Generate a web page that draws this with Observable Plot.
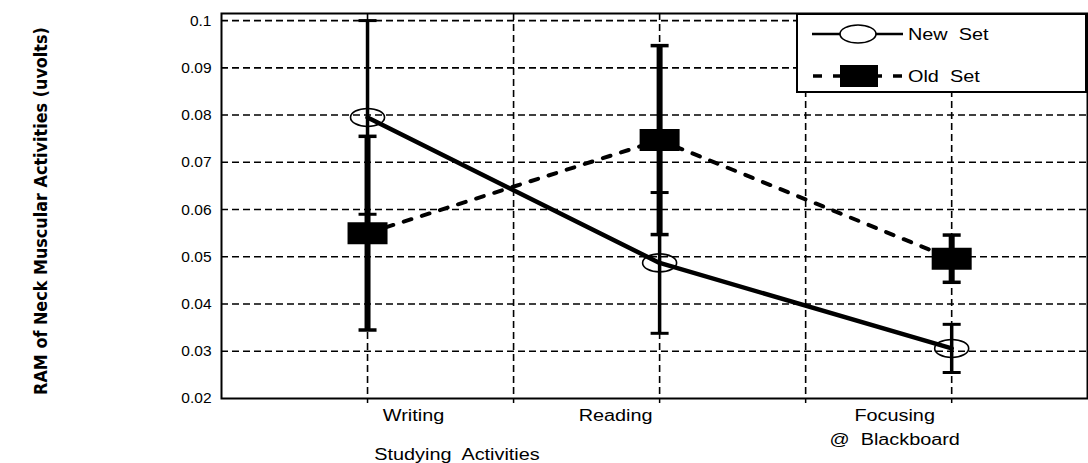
<!DOCTYPE html>
<html><head>
<meta charset="utf-8">
<script src="https://cdn.jsdelivr.net/npm/d3@7"></script>
<script src="https://cdn.jsdelivr.net/npm/@observablehq/plot@0.6"></script>
<style>
html,body{margin:0;padding:0;background:#fff;}
#chart{position:relative;width:1088px;height:463px;}
svg text{white-space:pre;}
</style>
</head><body><div id="chart"></div>
<script>
// ---- data ----
const activities = ["Writing", "Reading", "Focusing\n@  Blackboard"];
const newSet = [0.0795, 0.0487, 0.0306];
const newErr = [0.0205, 0.0149, 0.0051];
const oldSet = [0.0550, 0.0747, 0.0496];
const oldErr = [0.0205, 0.0200, 0.0050];
const yTicks = [0.02, 0.03, 0.04, 0.05, 0.06, 0.07, 0.08, 0.09, 0.1];
const yTickLabels = ["0.02", "0.03", "0.04", "0.05", "0.06", "0.07", "0.08", "0.09", "0.1"];
const seriesNames = ["New  Set", "Old  Set"];
const xTitle = "Studying  Activities";
const yTitle = "RAM of Neck Muscular Activities (uvolts)";

// category i sits at slot 2i+1; dashed verticals every slot
const catX = activities.map((d, i) => 2 * i + 1);
const vGrid = d3.range(1, 6);
const labelDx = [46, -44, -57];

const newData = activities.map((a, i) => ({x: catX[i], y: newSet[i], lo: newSet[i] - newErr[i], hi: newSet[i] + newErr[i]}));
const oldData = activities.map((a, i) => ({x: catX[i], y: oldSet[i], lo: oldSet[i] - oldErr[i], hi: oldSet[i] + oldErr[i]}));
const yLabelMap = new Map(yTicks.map((t, i) => [t, yTickLabels[i]]));

const kappa = 0.5523;
const ellipseSym = {draw(ctx) {
  const rx = 17, ry = 9;
  ctx.moveTo(rx, 0);
  ctx.bezierCurveTo(rx, ry * kappa, rx * kappa, ry, 0, ry);
  ctx.bezierCurveTo(-rx * kappa, ry, -rx, ry * kappa, -rx, 0);
  ctx.bezierCurveTo(-rx, -ry * kappa, -rx * kappa, -ry, 0, -ry);
  ctx.bezierCurveTo(rx * kappa, -ry, rx, -ry * kappa, rx, 0);
  ctx.closePath();
}};
const rectSym = {draw(ctx) { ctx.rect(-20, -11, 40, 22); }};
const capSym = {draw(ctx) { ctx.moveTo(-9, 0); ctx.lineTo(9, 0); }};

const font = "'Liberation Sans', Arial, sans-serif";

const plot = Plot.plot({
  width: 1088,
  height: 463,
  marginLeft: 221,
  marginRight: 1,
  marginTop: 13,
  marginBottom: 65,
  style: {fontFamily: font, background: "white", color: "black"},
  x: {domain: [0, 5.93], axis: null},
  y: {domain: [0.02, 0.1015], axis: null},
  marks: [
    Plot.ruleY(yTicks.slice(1), {stroke: "black", strokeWidth: 1.6, strokeDasharray: "7,4"}),
    Plot.ruleX(vGrid, {stroke: "black", strokeWidth: 1.6, strokeDasharray: "7,4"}),
    Plot.axisX(vGrid, {tickSize: 5, tickFormat: () => "", label: null, stroke: "black", strokeWidth: 1.5}),
    Plot.axisY(yTicks, {tickSize: 0, tickPadding: 10, fontSize: 15.5, tickFormat: d => yLabelMap.get(d), label: null}),
    Plot.frame({stroke: "black", strokeWidth: 2}),
    // error bars
    Plot.ruleX(oldData, {x: "x", y1: "lo", y2: "hi", stroke: "black", strokeWidth: 6}),
    Plot.ruleX(newData, {x: "x", y1: "lo", y2: "hi", stroke: "black", strokeWidth: 3.5}),
    Plot.dot(oldData, {x: "x", y: "lo", symbol: capSym, stroke: "black", strokeWidth: 3.5, fill: "none"}),
    Plot.dot(oldData, {x: "x", y: "hi", symbol: capSym, stroke: "black", strokeWidth: 3.5, fill: "none"}),
    Plot.dot(newData, {x: "x", y: "lo", symbol: capSym, stroke: "black", strokeWidth: 3, fill: "none"}),
    Plot.dot(newData, {x: "x", y: "hi", symbol: capSym, stroke: "black", strokeWidth: 3, fill: "none"}),
    // series lines
    Plot.line(newData, {x: "x", y: "y", stroke: "black", strokeWidth: 4.5}),
    Plot.line(oldData, {x: "x", y: "y", stroke: "black", strokeWidth: 4, strokeDasharray: "8,11"}),
    // markers
    Plot.dot(newData, {x: "x", y: "y", symbol: ellipseSym, stroke: "black", strokeWidth: 1.6, fill: "none"}),
    Plot.dot(oldData, {x: "x", y: "y", symbol: rectSym, fill: "black", stroke: "none"}),
    // category labels
    ...activities.map((a, i) => Plot.text([a], {
      x: catX[i], frameAnchor: "bottom", dy: 5, dx: labelDx[i], lineAnchor: "top",
      lineHeight: 1.5, fontSize: 16, fill: "black", textAnchor: "middle"
    }))
  ]
});

const chart = document.getElementById("chart");
chart.appendChild(plot);
const svg = d3.select(plot);

// legend
const lg = svg.append("g").attr("font-family", font).attr("font-size", 16).attr("text-anchor", "start");
lg.append("rect").attr("x", 797).attr("y", 14).attr("width", 289).attr("height", 78)
  .attr("fill", "white").attr("stroke", "black").attr("stroke-width", 2);
lg.append("line").attr("x1", 812).attr("x2", 903).attr("y1", 34).attr("y2", 34)
  .attr("stroke", "black").attr("stroke-width", 2.5);
lg.append("ellipse").attr("cx", 858).attr("cy", 34).attr("rx", 18).attr("ry", 9)
  .attr("fill", "white").attr("stroke", "black").attr("stroke-width", 1.6);
lg.append("line").attr("x1", 813).attr("x2", 903).attr("y1", 76).attr("y2", 76)
  .attr("stroke", "black").attr("stroke-width", 3.5).attr("stroke-dasharray", "9,11");
lg.append("rect").attr("x", 840).attr("y", 65).attr("width", 38).attr("height", 22).attr("fill", "black");
lg.append("text").attr("class", "stretch").attr("text-anchor", "start").attr("x", 908).attr("y", 34).attr("dy", "0.35em").text(seriesNames[0]);
lg.append("text").attr("class", "stretch").attr("text-anchor", "start").attr("x", 908).attr("y", 76).attr("dy", "0.35em").text(seriesNames[1]);

// axis titles
svg.append("text").attr("class", "stretch").attr("x", 457).attr("y", 460)
  .attr("text-anchor", "middle").attr("font-family", font).attr("font-size", 16).text(xTitle);
const yt = svg.append("text").attr("transform", "translate(41,211) rotate(-90)")
  .attr("text-anchor", "middle").attr("dy", "0.35em")
  .attr("font-family", "'Liberation Sans Narrow', 'DejaVu Sans Condensed', 'Liberation Sans', sans-serif")
  .attr("font-size", 20).attr("font-weight", "bold").text(yTitle);
// fit the rotated title to the reference's length by adjusting its size
{
  const len = yt.node().getComputedTextLength();
  yt.attr("font-size", Math.min(20 * 368 / len, 24));
}

// the reference's text is horizontally stretched
function stretch(el, f) {
  const len = el.getComputedTextLength();
  el.setAttribute("textLength", len * f);
  el.setAttribute("lengthAdjust", "spacingAndGlyphs");
}
svg.selectAll("text.stretch").each(function() { stretch(this, 1.24); });
svg.selectAll("g[aria-label='text'] tspan").each(function() { stretch(this, 1.24); });
svg.selectAll("g[aria-label='text'] text").filter(function() { return !this.querySelector("tspan"); }).each(function() { stretch(this, 1.24); });
</script>
</body></html>
